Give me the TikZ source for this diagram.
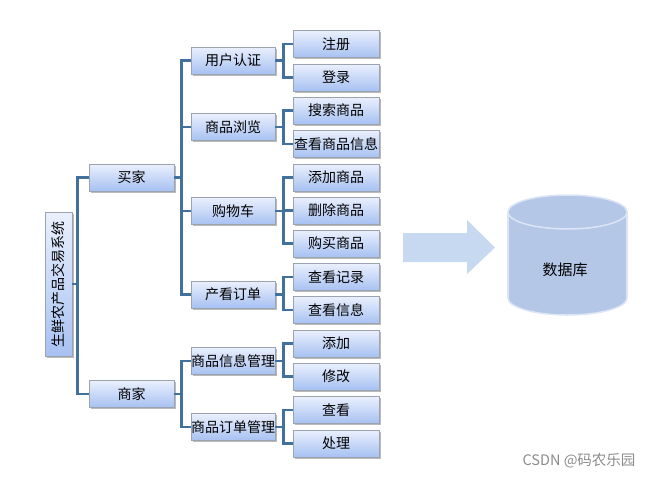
\documentclass[tikz,border=0pt]{standalone}
\usepackage{fontspec}
\setmainfont{Noto Sans CJK SC}
\usetikzlibrary{shadows}
\definecolor{lineblue}{HTML}{41719C}
\definecolor{boxtop}{HTML}{EAF0FD}
\definecolor{boxbot}{HTML}{A7C1F2}
\definecolor{boxedge}{HTML}{9AA3AE}
\definecolor{arrowfill}{HTML}{C6D9F1}
\definecolor{cylfill}{HTML}{B4C7E7}
\definecolor{cyledge}{HTML}{DCE5F5}
\tikzset{
  box/.style={draw=boxedge, line width=0.8pt, top color=boxtop, bottom color=boxbot,
    minimum height=27pt, inner sep=0pt, font=\fontsize{14}{16}\selectfont,
    drop shadow={shadow xshift=1.5pt, shadow yshift=-1.5pt, fill=black!45, opacity=0.6}},
  lvone/.style={box, minimum width=85pt},
  lvtwo/.style={box, minimum width=84pt},
  lvthree/.style={box, minimum width=86pt},
  conn/.style={draw=lineblue, line width=2.4pt},
}
\begin{document}
\begin{tikzpicture}[x=1pt,y=-1pt]
\useasboundingbox (0,0) rectangle (653,479);
% root
\node[box, minimum width=144pt, minimum height=27pt, rotate=90] (root) at (58.5,284) {生鲜农产品交易系统};
% level 1
\node[lvone] (buyer) at (131.5,177.5) {买家};
\node[lvone] (seller) at (131.5,394) {商家};
% level 2
\node[lvtwo] (auth) at (233,60.5) {用户认证};
\node[lvtwo] (browse) at (233,127) {商品浏览};
\node[lvtwo] (cart) at (233,211) {购物车};
\node[lvtwo] (order) at (233,294.5) {产看订单};
\node[lvtwo] (pinfo) at (233,361) {商品信息管理};
\node[lvtwo] (porder) at (233,427) {商品订单管理};
% level 3
\node[lvthree] (reg) at (336,44) {注册};
\node[lvthree] (login) at (336,77.5) {登录};
\node[lvthree] (search) at (336,110.5) {搜索商品};
\node[lvthree] (viewinfo) at (336,144) {查看商品信息};
\node[lvthree] (add) at (336,177.5) {添加商品};
\node[lvthree] (del) at (336,210.5) {删除商品};
\node[lvthree] (buy) at (336,243.5) {购买商品};
\node[lvthree] (rec) at (336,277) {查看记录};
\node[lvthree] (info) at (336,310) {查看信息};
\node[lvthree] (padd) at (336,343.5) {添加};
\node[lvthree] (pmod) at (336,376.5) {修改};
\node[lvthree] (pview) at (336,410) {查看};
\node[lvthree] (pproc) at (336,443.5) {处理};
% connectors
\draw[conn] (root.south) -- ++(6,0);
\draw[conn] (buyer.west) -- ++(-11,0) |- (seller.west);
\draw[conn] (buyer.east) -- ++(8,0);
\draw[conn] (auth.west) -- ++(-9,0) |- (order.west);
\draw[conn] (browse.west) -- ++(-9,0);
\draw[conn] (cart.west) -- ++(-9,0);
\draw[conn] (seller.east) -- ++(8,0);
\draw[conn] (pinfo.west) -- ++(-9,0) |- (porder.west);
\draw[conn] (auth.east) -- ++(9,0);
\draw[conn] (reg.west) -- ++(-9,0) |- (login.west);
\draw[conn] (search.west) -- ++(-9,0) |- (viewinfo.west);
\draw[conn] (browse.east) -- ++(9,0);
\draw[conn] (add.west) -- ++(-9,0) |- (buy.west);
\draw[conn] (del.west) -- ++(-9,0);
\draw[conn] (cart.east) -- ++(9,0);
\draw[conn] (rec.west) -- ++(-9,0) |- (info.west);
\draw[conn] (order.east) -- ++(9,0);
\draw[conn] (padd.west) -- ++(-9,0) |- (pmod.west);
\draw[conn] (pinfo.east) -- ++(9,0);
\draw[conn] (pview.west) -- ++(-9,0) |- (pproc.west);
\draw[conn] (porder.east) -- ++(9,0);
% block arrow
\fill[arrowfill] (403,233) -- (467,233) -- (467,220) -- (495,247.5) -- (467,274) -- (467,262) -- (403,262) -- cycle;
% database cylinder
\filldraw[fill=cylfill, draw=cyledge, line width=1.5pt] (567.5,298) ellipse [x radius=59.5, y radius=17];
\fill[cylfill] (508,212) rectangle (627,298);
\draw[cyledge, line width=1.5pt] (508,212) -- (508,298) (627,212) -- (627,298);
\filldraw[fill=cylfill, draw=cyledge, line width=1.5pt] (567.5,212) ellipse [x radius=59.5, y radius=17];
\node[font=\fontsize{15}{17}\selectfont] (dblabel) at (565,270) {数据库};
% watermark
\node[text=black!45, font=\fontsize{14.5}{16}\selectfont, anchor=east] (wm) at (639,461) {CSDN @码农乐园};
\end{tikzpicture}
\end{document}
